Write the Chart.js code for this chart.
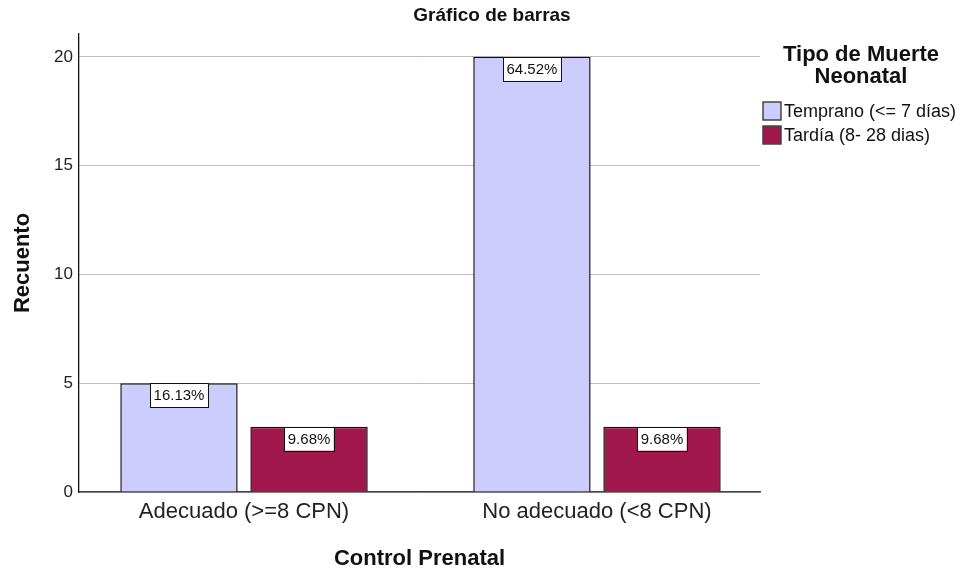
<!DOCTYPE html>
<html>
<head>
<meta charset="utf-8">
<script src="https://cdn.jsdelivr.net/npm/chart.js@4"></script>
<style>
    body { margin: 0; background: #fff; }
    canvas { display: block; }
</style>
</head>
<body>
<canvas id="barChart" width="968" height="576"></canvas>
<script>
// Chart data
const categories = ['Adecuado (>=8 CPN)', 'No adecuado (<8 CPN)'];
const seriesNames = ['Temprano (<= 7 días)', 'Tardía (8- 28 dias)'];
const temprano = [5, 20];
const tardia = [3, 3];
const yTicks = [0, 5, 10, 15, 20];

const FONT = '"Liberation Sans", Arial, sans-serif';
const total = temprano.concat(tardia).reduce((a, b) => a + b, 0);

// percentage boxes on top of each bar
const percentLabels = {
    id: 'percentLabels',
    afterDatasetsDraw(chart) {
        const ctx = chart.ctx;
        ctx.save();
        ctx.font = '15px ' + FONT;
        ctx.textAlign = 'center';
        ctx.textBaseline = 'middle';
        chart.data.datasets.forEach((ds, i) => {
            chart.getDatasetMeta(i).data.forEach((bar, j) => {
                const text = (ds.data[j].y / total * 100).toFixed(2) + '%';
                const w = ctx.measureText(text).width + 7;
                const h = 24;
                const x = bar.x - w / 2;
                ctx.fillStyle = '#fff';
                ctx.fillRect(x, bar.y, w, h);
                ctx.strokeStyle = '#111';
                ctx.lineWidth = 1;
                ctx.strokeRect(Math.round(x) + 0.5, Math.round(bar.y) + 0.5, Math.round(w), h);
                ctx.fillStyle = '#111';
                ctx.fillText(text, bar.x, bar.y + h / 2 + 1);
            });
        });
        ctx.restore();
    }
};

// chart title and SPSS style legend on the right
const titleAndLegend = {
    id: 'titleAndLegend',
    afterDraw(chart) {
        const ctx = chart.ctx;
        ctx.save();
        ctx.fillStyle = '#111';
        ctx.textAlign = 'center';
        ctx.textBaseline = 'middle';
        ctx.font = 'bold 19px ' + FONT;
        ctx.fillText('Gráfico de barras', 492, 16);

        ctx.font = 'bold 22px ' + FONT;
        ctx.fillText('Tipo de Muerte', 861, 55);
        ctx.fillText('Neonatal', 861, 77);

        ctx.textAlign = 'left';
        ctx.font = '18px ' + FONT;
        chart.data.datasets.forEach((ds, i) => {
            const y = 102 + i * 24;
            ctx.fillStyle = ds.backgroundColor;
            ctx.fillRect(763, y, 18, 18);
            ctx.strokeStyle = '#444';
            ctx.lineWidth = 1.5;
            ctx.strokeRect(763, y, 18, 18);
            ctx.fillStyle = '#111';
            ctx.fillText(ds.label, 784, y + 10);
        });
        ctx.restore();
    }
};

function toPoints(values) {
    return values.map((v, i) => ({ x: i, y: v }));
}

new Chart(document.getElementById('barChart'), {
    type: 'bar',
    data: {
        datasets: [
            {
                label: seriesNames[0],
                data: toPoints(temprano),
                backgroundColor: '#ccccff',
                borderColor: '#111',
                borderWidth: 1.5
            },
            {
                label: seriesNames[1],
                data: toPoints(tardia),
                backgroundColor: '#a0184c',
                borderColor: '#111',
                borderWidth: 1.5
            }
        ]
    },
    options: {
        responsive: false,
        animation: false,
        layout: { padding: { left: 0, right: 208, top: 34, bottom: 0 } },
        datasets: {
            bar: { categoryPercentage: 0.737, barPercentage: 0.9025 }
        },
        scales: {
            x: {
                type: 'linear',
                offset: false,
                min: -0.4675,
                max: 1.4619,
                grid: { display: false, drawTicks: false },
                border: { color: '#444', width: 1.5 },
                afterBuildTicks: (scale) => {
                    scale.ticks = categories.map((_, i) => ({ value: i }));
                },
                afterFit: (scale) => { scale.height = 84; },
                ticks: {
                    padding: 7,
                    color: '#222',
                    font: { family: FONT, size: 22 },
                    callback: (v) => categories[v]
                },
                title: {
                    display: true,
                    text: 'Control Prenatal',
                    color: '#111',
                    font: { family: FONT, size: 22, weight: 'bold' },
                    padding: { top: 0, bottom: 4 }
                }
            },
            y: {
                min: 0,
                max: 21.05,
                grid: { color: '#bcbcbc', drawTicks: false },
                border: { color: '#111', width: 1.3 },
                afterBuildTicks: (scale) => {
                    scale.ticks = yTicks.map(v => ({ value: v }));
                },
                afterFit: (scale) => { scale.width = 79; },
                ticks: {
                    padding: 6,
                    color: '#222',
                    font: { family: FONT, size: 17 }
                },
                title: {
                    display: true,
                    text: 'Recuento',
                    color: '#111',
                    font: { family: FONT, size: 22, weight: 'bold' },
                    padding: { top: 10, bottom: 0 }
                }
            }
        },
        plugins: {
            legend: { display: false },
            title: { display: false },
            tooltip: { enabled: false }
        }
    },
    plugins: [percentLabels, titleAndLegend]
});
</script>
</body>
</html>
